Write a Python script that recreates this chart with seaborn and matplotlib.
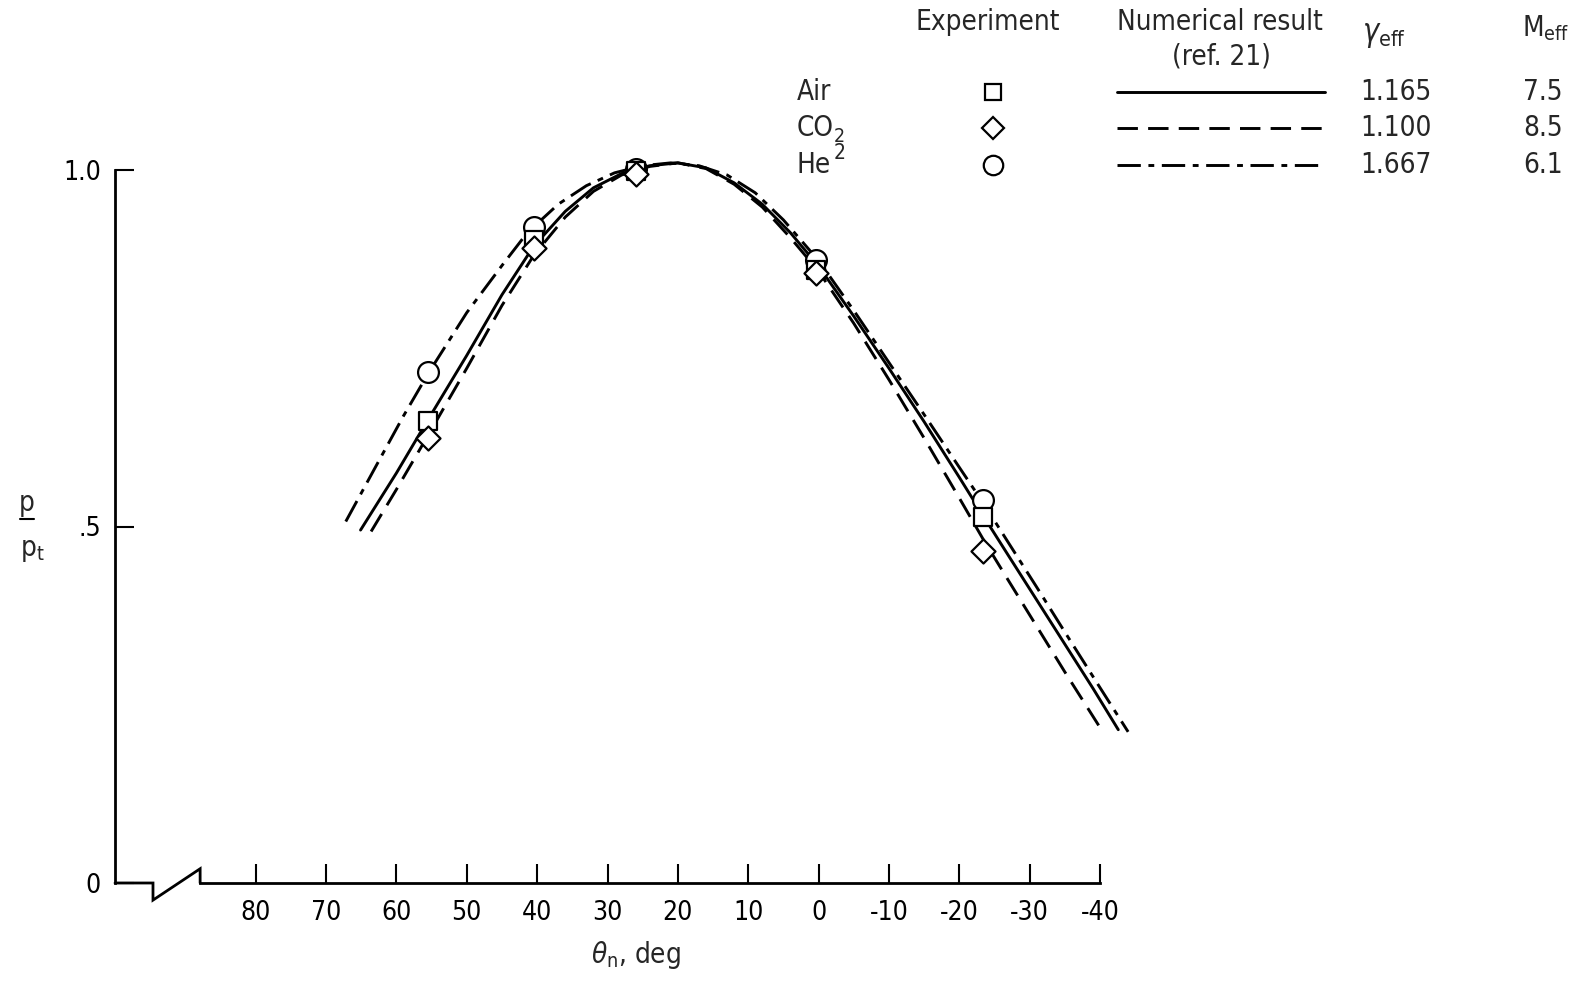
import matplotlib
matplotlib.use("Agg")
import matplotlib.pyplot as plt
import seaborn as sns
import pandas as pd
from matplotlib.lines import Line2D
from matplotlib import font_manager as fm

# ---------------- data ----------------
exp_theta = [55.5, 40.5, 26.0, 0.3, -23.4]
air_exp = [0.648, 0.902, 0.998, 0.860, 0.514]
co2_exp = [0.624, 0.890, 0.995, 0.856, 0.465]
he_exp = [0.716, 0.920, 1.002, 0.874, 0.537]

air_theta = [65.1, 60, 55.5, 50, 45, 40.5, 36, 32, 28, 24, 20, 16, 12, 8, 4, 0,
             -5, -10, -15, -20, -23.4, -27, -31, -35, -39, -42.6]
air_p = [0.495, 0.575, 0.650, 0.740, 0.825, 0.893, 0.942, 0.975, 0.995, 1.006,
         1.010, 1.003, 0.982, 0.952, 0.912, 0.865, 0.795, 0.722, 0.647, 0.569,
         0.515, 0.459, 0.397, 0.335, 0.273, 0.215]

co2_theta = [63.6, 60, 55.5, 50, 45, 40.5, 36, 32, 28, 24, 20, 16, 12, 8, 4, 0,
             -5, -10, -15, -20, -23.4, -27, -31, -35, -40.2]
co2_p = [0.493, 0.552, 0.628, 0.722, 0.810, 0.880, 0.934, 0.970, 0.993, 1.005,
         1.010, 1.002, 0.980, 0.948, 0.905, 0.858, 0.785, 0.706, 0.624, 0.540,
         0.482, 0.424, 0.360, 0.296, 0.215]

he_theta = [67.2, 63, 59, 55.4, 50, 45, 41.4, 37, 33, 29, 25, 21, 17, 13, 9, 5, 0,
            -5, -10, -15, -20, -23.4, -27, -31, -35, -40, -44]
he_p = [0.507, 0.583, 0.655, 0.716, 0.800, 0.866, 0.912, 0.952, 0.978, 0.996,
        1.006, 1.010, 1.006, 0.993, 0.968, 0.930, 0.873, 0.803, 0.730, 0.657,
        0.583, 0.533, 0.477, 0.415, 0.352, 0.274, 0.212]

x_ticks = [80, 70, 60, 50, 40, 30, 20, 10, 0, -10, -20, -30, -40]
x_ticklabels = ["80", "70", "60", "50", "40", "30", "20", "10", "0", "-10", "-20", "-30", "-40"]
y_ticks = [0, 0.5, 1.0]
y_ticklabels = ["0", ".5", "1.0"]

gases = ["Air", "CO", "He"]
gamma_eff = ["1.165", "1.100", "1.667"]
mach_eff = ["7.5", "8.5", "6.1"]

# ---------------- style ----------------
sns.set_theme(style="white")

# choose a condensed sans face if one is available
family = ["Liberation Sans", "DejaVu Sans"]
stretch = "normal"
try:
    p = fm.findfont(fm.FontProperties(family="DejaVu Sans", stretch="condensed"), fallback_to_default=False)
    if "ondensed" in p:
        family = ["DejaVu Sans"]
        stretch = "condensed"
except Exception:
    pass
if stretch == "normal":
    try:
        p = fm.findfont(fm.FontProperties(family="Liberation Sans Narrow"), fallback_to_default=False)
        if "Narrow" in p:
            family = ["Liberation Sans Narrow", "DejaVu Sans"]
    except Exception:
        pass
plt.rcParams["font.family"] = family
plt.rcParams["font.stretch"] = stretch
plt.rcParams["mathtext.fontset"] = "dejavusans"

W, H = 1587, 991
DPI = 100
fig = plt.figure(figsize=(W / DPI, H / DPI), dpi=DPI)
fig.patch.set_facecolor("white")


def fx(x):
    return x / W


def fy(y):
    return 1 - y / H


# axes placement: x=100 -> px 115, x=-40 -> px 1100 ; y=0 -> px 883, y=1 -> px 170
y0_px, y1_px = 883.0, 170.0
ppu = y0_px - y1_px
ylo, yhi = -0.06, 1.04
bot_px = y0_px - ylo * ppu
top_px = y1_px - (yhi - 1.0) * ppu
ax = fig.add_axes([fx(115), fy(bot_px), fx(1100) - fx(115), (bot_px - top_px) / H])
ax.set_facecolor("white")
ax.set_xlim(100, -40)
ax.set_ylim(ylo, yhi)

LW = 2.1
solid = "-"
dashed = (0, (7, 3.5))
dashdot = (0, (8, 2.6, 2, 2.6))

for th, pv, ls in [(air_theta, air_p, solid), (co2_theta, co2_p, dashed), (he_theta, he_p, dashdot)]:
    df = pd.DataFrame({"theta": th, "p": pv})
    sns.lineplot(data=df, x="theta", y="p", ax=ax, color="black", linewidth=LW,
                 linestyle=ls, sort=False, estimator=None, legend=False, clip_on=False)

mk = dict(facecolor="white", edgecolor="black", linewidth=1.6, zorder=5, legend=False)
sns.scatterplot(x=exp_theta, y=he_exp, ax=ax, marker="o", s=225, **mk)
sns.scatterplot(x=exp_theta, y=air_exp, ax=ax, marker="s", s=170, **mk)
sns.scatterplot(x=exp_theta, y=co2_exp, ax=ax, marker="D", s=150, **mk)

# axes decoration
for s in ["top", "right"]:
    ax.spines[s].set_visible(False)
for s in ["left", "bottom"]:
    ax.spines[s].set_color("black")
    ax.spines[s].set_linewidth(2.0)
ax.spines["bottom"].set_position(("data", 0))
ax.spines["bottom"].set_bounds(-40, 87.9)
ax.spines["left"].set_bounds(0, 1.0)
# broken axis symbol
ax.plot([100, 94.6, 94.6, 87.9, 87.9], [0, 0, -0.024, 0.020, 0], color="black",
        lw=2.0, clip_on=False, solid_joinstyle="miter")

ax.set_xticks(x_ticks)
ax.set_xticklabels(x_ticklabels)
ax.set_yticks(y_ticks)
ax.set_yticklabels(y_ticklabels)
ax.tick_params(axis="both", direction="in", length=14, width=1.5, colors="black",
               labelsize=19, left=True, bottom=True)
ax.tick_params(axis="x", pad=12)
ax.tick_params(axis="y", pad=10)
ax.set_xlabel("")
ax.set_ylabel("")
ax.grid(False)

FS = 20
# axis labels
fig.text(fx(636), fy(955), r"$\theta_{\mathrm{n}}$, deg", ha="center", va="center", fontsize=FS)
fig.text(fx(27), fy(503), "p", ha="center", va="center", fontsize=FS)
fig.add_artist(Line2D([fx(20), fx(34)], [fy(519), fy(519)], color="black", lw=1.5))
fig.text(fx(20), fy(550), r"p$_{\mathrm{t}}$", ha="left", va="center", fontsize=FS)

# table-style legend
fig.text(fx(988), fy(22), "Experiment", ha="center", va="center", fontsize=FS)
fig.text(fx(1220), fy(22), "Numerical result", ha="center", va="center", fontsize=FS)
fig.text(fx(1221), fy(56), "(ref. 21)", ha="center", va="center", fontsize=FS)
fig.text(fx(1362), fy(36), r"$\gamma_{\mathrm{eff}}$", ha="left", va="center", fontsize=FS + 2)
fig.text(fx(1522), fy(28), r"M$_{\mathrm{eff}}$", ha="left", va="center", fontsize=FS)

row_y = [92, 128, 165]
markers = ["s", "D", "o"]
msizes = [12, 11, 14]
styles = [solid, dashed, dashdot]
for i, g in enumerate(gases):
    fig.text(fx(797), fy(row_y[i]), g, ha="left", va="center", fontsize=FS)
    fig.add_artist(Line2D([fx(993)], [fy(row_y[i])], marker=markers[i], markersize=msizes[i],
                          markerfacecolor="white", markeredgecolor="black", markeredgewidth=1.6,
                          linestyle="none"))
    fig.add_artist(Line2D([fx(1117), fx(1325)], [fy(row_y[i]), fy(row_y[i])], color="black",
                          lw=LW, linestyle=styles[i]))
    fig.text(fx(1396), fy(row_y[i]), gamma_eff[i], ha="center", va="center", fontsize=FS)
    fig.text(fx(1543), fy(row_y[i]), mach_eff[i], ha="center", va="center", fontsize=FS)
# the two small "2" glyphs next to CO and He
fig.text(fx(834), fy(136), "2", ha="left", va="center", fontsize=14)
fig.text(fx(834), fy(153), "2", ha="left", va="center", fontsize=15)

fig.savefig("out.png", dpi=DPI, facecolor="white")
